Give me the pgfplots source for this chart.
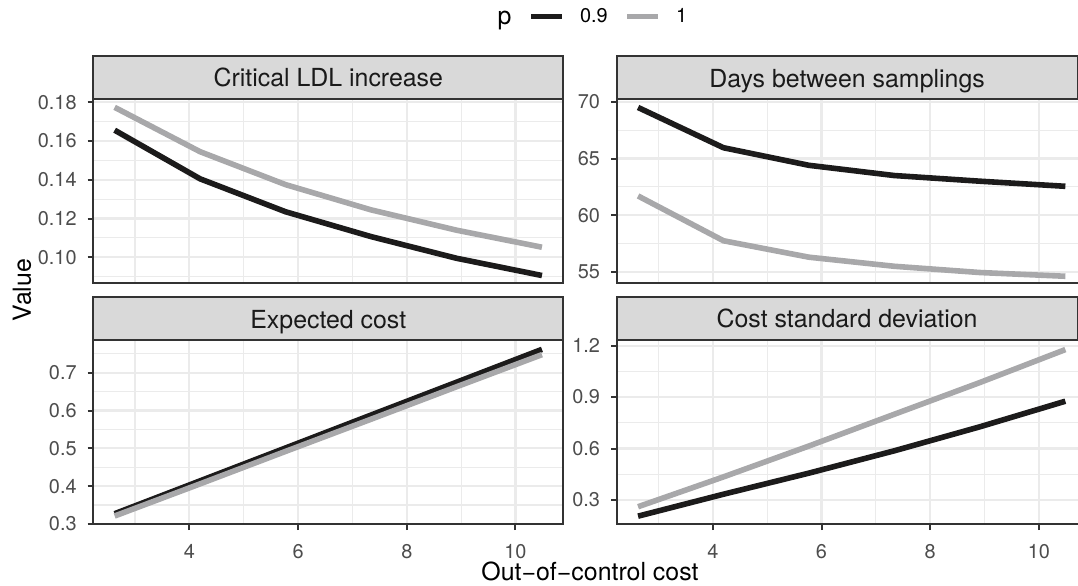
\documentclass[border=0pt]{standalone}
\usepackage{fontspec}
\setmainfont{TeX Gyre Heros}
\usepackage{pgfplots}
\pgfplotsset{compat=1.18}

\definecolor{grey10}{HTML}{1A1A1A}
\definecolor{grey20}{HTML}{333333}
\definecolor{grey30}{HTML}{4D4D4D}
\definecolor{grey85}{HTML}{D9D9D9}
\definecolor{grey92}{HTML}{EBEBEB}
\definecolor{pnine}{HTML}{1C1B1B}
\definecolor{pone}{HTML}{A8A8AA}

\newcommand{\bigfont}{\fontsize{12.45}{14}\selectfont}
\newcommand{\smallfont}{\fontsize{9.95}{12}\selectfont}

% grey strip on top of a panel
\newcommand{\facetstrip}[1]{%
  \draw[grey20, line width=1pt, fill=grey85] (axis description cs:0,1) rectangle ([yshift=21.8pt]axis description cs:1,1);
  \node[anchor=base, inner sep=0pt, font=\bigfont, text=grey10] at ([yshift=6.15pt]axis description cs:0.5,1) {#1};
}

\pgfplotsset{
  facet/.style={
    scale only axis, width=235pt, height=92pt,
    xmin=2.232, xmax=10.88,
    xtick={4,6,8,10}, minor xtick={3,5,7,9},
    grid=both,
    major grid style={grey92, line width=1.1pt},
    minor grid style={grey92, line width=0.55pt},
    axis line style={grey20, line width=1pt},
    tick align=outside, xtick pos=bottom, ytick pos=left,
    major tick length=2.85pt, minor tick length=0pt,
    tick style={grey20, line width=1pt},
    ticklabel style={font=\smallfont, text=grey30},
    yticklabel style={inner sep=0pt, xshift=-5.3pt},
    xticklabel style={inner sep=0pt, yshift=-7pt},
    /pgf/number format/assume math mode=true,
    clip=false,
  },
  % right column: cut at the picture's right edge, as in the reference
  rightfacet/.style={
    facet, width=230.4pt, xmax=10.71,
    axis line style={draw=none},
  },
  nine/.style={pnine, line width=2.8pt, line join=round},
  one/.style={pone, line width=2.8pt, line join=round},
}

% left, top and bottom border of a cut panel
\newcommand{\cutborder}{%
  \draw[grey20, line width=1pt] (axis description cs:1.02,1) -- (axis description cs:0,1) -- (axis description cs:0,0) -- (axis description cs:1.02,0);
}

\begin{document}
\begin{tikzpicture}
\useasboundingbox (0,0) rectangle (539pt,292.5pt);

% Critical LDL increase
\begin{axis}[facet, at={(46.65pt,150.85pt)},
  ymin=0.08658, ymax=0.18155,
  ytick={0.10,0.12,0.14,0.16,0.18}, yticklabels={0.10,0.12,0.14,0.16,0.18},
  minor ytick={0.09,0.11,0.13,0.15,0.17},
  xticklabels={}, major x tick style={draw=none},
  legend columns=-1,
  legend image code/.code={\draw[#1, line width=2.5pt, line cap=butt] (0pt,0pt) -- (15.5pt,0pt);},
  legend style={at={(0.9255,1.449)}, anchor=west, draw=none, fill=none,
    inner sep=0pt, font=\smallfont, nodes={inner sep=0pt},
    /tikz/every odd column/.append style={column sep=7.7pt},
    /tikz/every even column/.append style={column sep=8.5pt}},
]
\addplot[nine] coordinates {(2.625,0.1656) (4.197,0.1405) (5.77,0.1235) (7.34,0.1107) (8.915,0.0995) (10.487,0.0906)};
\addlegendentry{0.9}
\addplot[one] coordinates {(2.625,0.1774) (4.197,0.1545) (5.77,0.1375) (7.34,0.1245) (8.915,0.1140) (10.487,0.1052)};
\addlegendentry{1}
\facetstrip{Critical LDL increase}
\end{axis}

% Days between samplings
\begin{axis}[rightfacet, at={(308.35pt,150.85pt)},
  ymin=54.0, ymax=70.22,
  ytick={55,60,65,70}, minor ytick={57.5,62.5,67.5},
  xticklabels={}, major x tick style={draw=none},
]
\addplot[nine] coordinates {(2.625,69.5) (4.197,65.95) (5.77,64.4) (7.34,63.5) (8.915,63.0) (10.487,62.55)};
\addplot[one] coordinates {(2.625,61.7) (4.197,57.75) (5.77,56.3) (7.34,55.5) (8.915,54.95) (10.487,54.62)};
\cutborder
\facetstrip{Days between samplings}
\end{axis}

% Expected cost
\begin{axis}[facet, at={(46.65pt,30.35pt)},
  ymin=0.299, ymax=0.786,
  ytick={0.3,0.4,0.5,0.6,0.7}, yticklabels={0.3,0.4,0.5,0.6,0.7},
  minor ytick={0.35,0.45,0.55,0.65,0.75},
]
\addplot[nine] coordinates {(2.625,0.327) (4.197,0.414) (5.77,0.501) (7.34,0.588) (8.915,0.675) (10.487,0.762)};
\addplot[one] coordinates {(2.625,0.321) (4.197,0.406) (5.77,0.492) (7.34,0.577) (8.915,0.663) (10.487,0.748)};
\facetstrip{Expected cost}
\end{axis}

% Cost standard deviation
\begin{axis}[rightfacet, at={(308.35pt,30.35pt)},
  ymin=0.1586, ymax=1.231,
  ytick={0.3,0.6,0.9,1.2}, yticklabels={0.3,0.6,0.9,1.2},
  minor ytick={0.45,0.75,1.05},
]
\addplot[nine] coordinates {(2.625,0.206) (4.197,0.334) (5.77,0.457) (7.34,0.587) (8.915,0.727) (10.487,0.876)};
\addplot[one] coordinates {(2.625,0.261) (4.197,0.435) (5.77,0.615) (7.34,0.800) (8.915,0.985) (10.487,1.177)};
\cutborder
\facetstrip{Cost standard deviation}
\end{axis}

\node[anchor=base west, inner sep=0pt, font=\bigfont] at (248.65pt,280pt) {p};
\node[rotate=90, inner sep=0pt, font=\bigfont] at (11pt,147.5pt) {Value};
\node[anchor=base, inner sep=0pt, font=\bigfont] at (295pt,2.15pt) {Out−of−control cost};
\end{tikzpicture}
\end{document}
